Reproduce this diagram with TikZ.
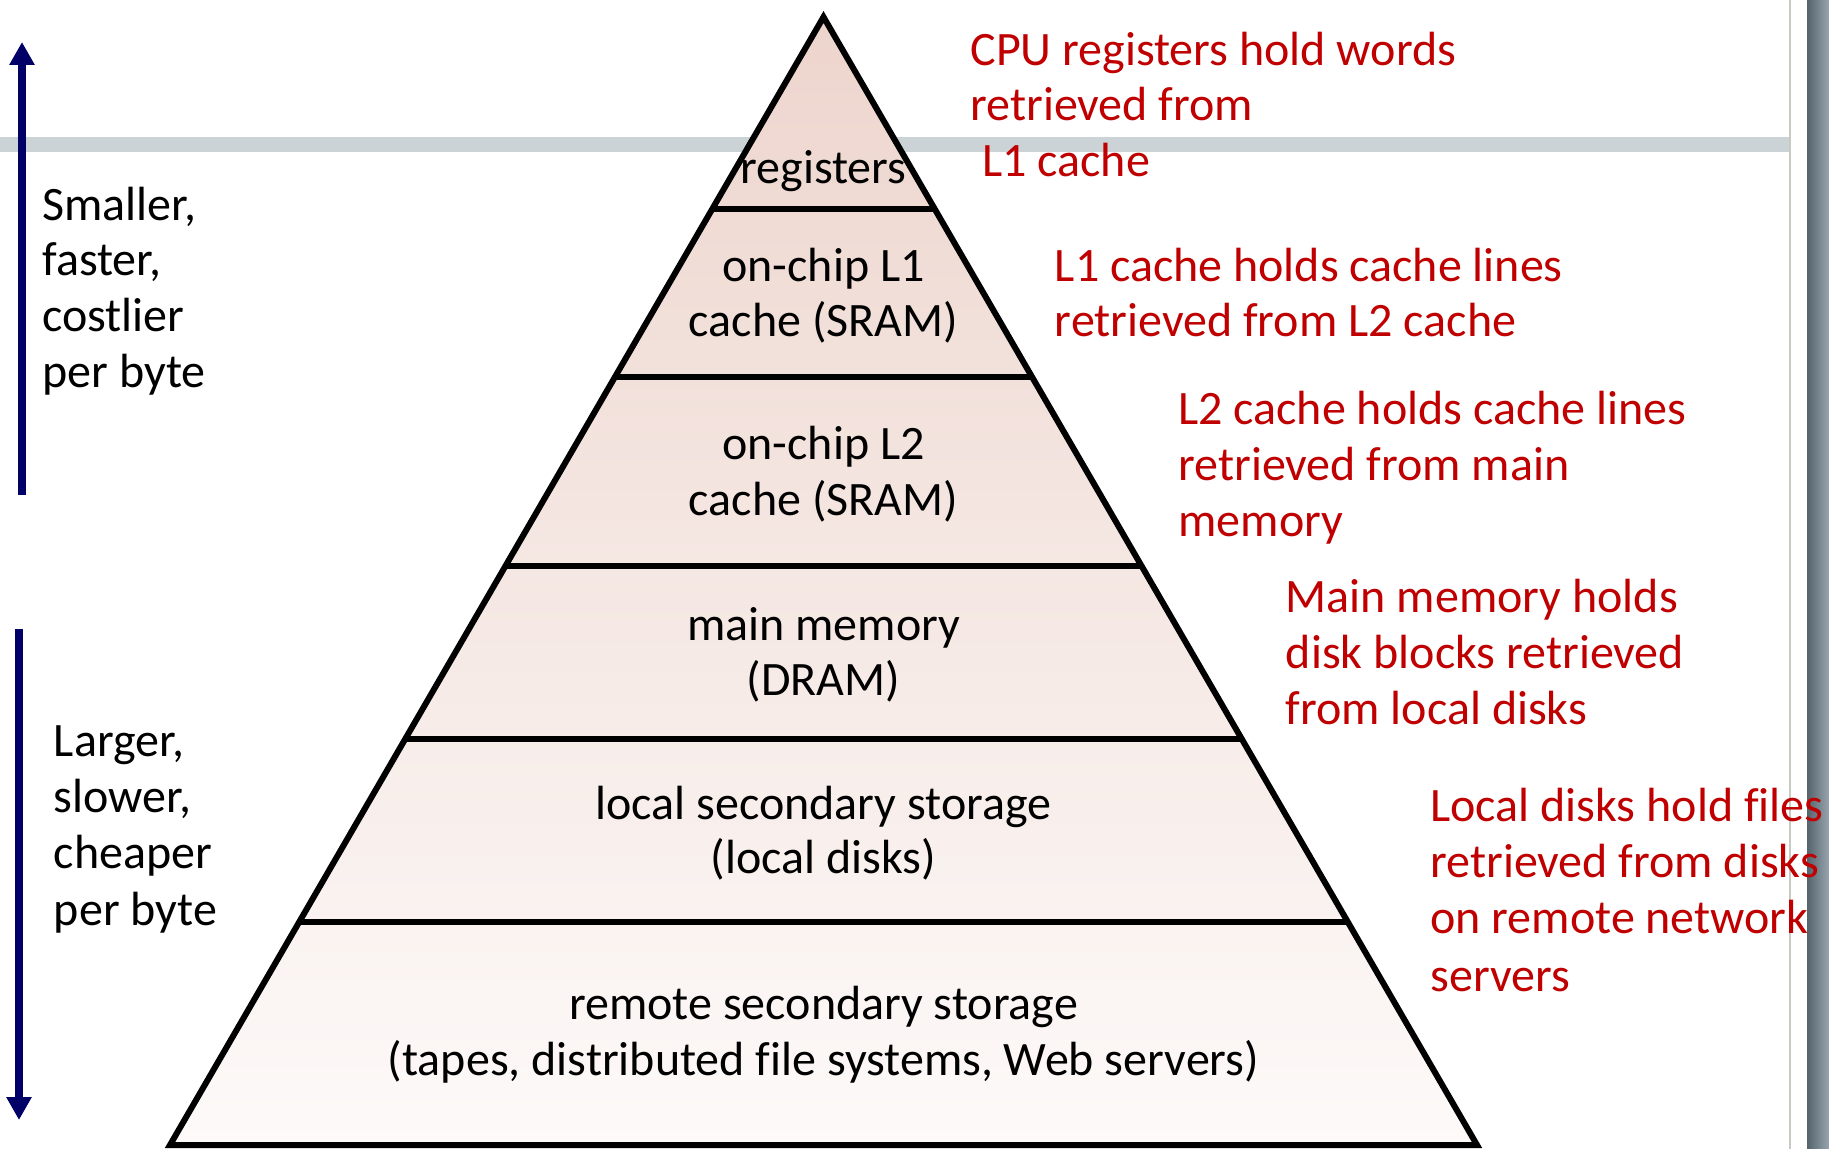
\documentclass[tikz,border=0pt]{standalone}
\usepackage{fontspec}
\setmainfont{Carlito}[Ligatures=NoCommon]
\usetikzlibrary{arrows.meta,calc}

\definecolor{notered}{HTML}{C00000}
\definecolor{arrownavy}{HTML}{000066}
\definecolor{pyrtop}{HTML}{EDD5CD}
\definecolor{pyrbot}{HTML}{FDFAF9}
\definecolor{bandgray}{HTML}{CBD3D6}
\definecolor{rulegray}{HTML}{C8CBC1}
\definecolor{bardark}{HTML}{55636D}
\definecolor{barmid}{HTML}{7F8E97}
\definecolor{barlight}{HTML}{97A5AD}

\begin{document}
\begin{tikzpicture}[x=0.5pt,y=-0.5pt,
  txt/.style={inner sep=0pt, font=\fontsize{24}{28}\selectfont},
  note/.style={txt, text=notered, anchor=base west},
  side/.style={txt, anchor=base west},
  tier/.style={txt, anchor=base},
  outline/.style={line width=3pt, line join=miter},
  tierline/.style={line width=3pt},
  dirarrow/.style={draw=arrownavy, line width=3.75pt,
    -{Triangle[length=11.5pt,width=12pt]}}]

% page area
\useasboundingbox (0,0) rectangle (1829,1149);
\fill[white] (0,0) rectangle (1829,1149);

% title band, frame rule and window edge
\fill[bandgray] (0,137.5) rectangle (1790,152);
\draw[rulegray, line width=1pt] (1790,0) -- (1790,1149);
\shade[left color=bardark, middle color=barmid, right color=barlight]
  (1807,0) rectangle (1829,1149);

% pyramid
\coordinate (apex) at (823.5,17);
\coordinate (bl) at (170,1145);
\coordinate (br) at (1477,1145);
\shade[top color=pyrtop, bottom color=pyrbot] (apex) -- (bl) -- (br) -- cycle;

\coordinate (d1l) at ($(apex)!0.1702!(bl)$);
\coordinate (d1r) at ($(apex)!0.1702!(br)$);
\coordinate (d2l) at ($(apex)!0.3191!(bl)$);
\coordinate (d2r) at ($(apex)!0.3191!(br)$);
\coordinate (d3l) at ($(apex)!0.4867!(bl)$);
\coordinate (d3r) at ($(apex)!0.4867!(br)$);
\coordinate (d4l) at ($(apex)!0.6401!(bl)$);
\coordinate (d4r) at ($(apex)!0.6401!(br)$);
\coordinate (d5l) at ($(apex)!0.8023!(bl)$);
\coordinate (d5r) at ($(apex)!0.8023!(br)$);

\draw[tierline] (d1l) -- (d1r);
\draw[tierline] (d2l) -- (d2r);
\draw[tierline] (d3l) -- (d3r);
\draw[tierline] (d4l) -- (d4r);
\draw[tierline] (d5l) -- (d5r);
\draw[outline] (apex) -- (bl) -- (br) -- cycle;

% tier labels
\node[tier] (reg)  at (823.5,183.5) {registers};
\node[tier] (l1a)  at (823.5,281.5) {on-chip L1};
\node[tier] (l1b)  at (823.5,336.5) {cache (SRAM)};
\node[tier] (l2a)  at (823.5,459.5) {on-chip L2};
\node[tier] (l2b)  at (823.5,515.5) {cache (SRAM)};
\node[tier] (mma)  at (823.5,640.5) {main memory};
\node[tier] (mmb)  at (823.5,695.5) {(DRAM)};
\node[tier] (lsa)  at (823.5,819.5) {local secondary storage};
\node[tier] (lsb)  at (823.5,873.5) {(local disks)};
\node[tier] (rsa)  at (823.5,1019.5) {remote secondary storage};
\node[tier] (rsb)  at (823.5,1075.5) {(tapes, distributed file systems, Web servers)};

% notes on the right
\node[note] (cpu1) at (970,65.5)  {CPU registers hold words};
\node[note] (cpu2) at (970,121)   {retrieved from};
\node[note] (cpu3) at (982,176.5) {L1 cache};

\node[note] (c1a) at (1054.5,281.5) {L1 cache holds cache lines};
\node[note] (c1b) at (1054.5,336.5) {retrieved from L2 cache};

\node[note] (c2a) at (1178,424.5) {L2 cache holds cache lines};
\node[note] (c2b) at (1178,480.5) {retrieved from main};
\node[note] (c2c) at (1178,536.5) {memory};

\node[note] (mm1) at (1285.5,612.5) {Main memory holds};
\node[note] (mm2) at (1285.5,668.5) {disk blocks retrieved};
\node[note] (mm3) at (1285.5,724.5) {from local disks};

\node[note] (ld1) at (1430,821.5) {Local disks hold files};
\node[note] (ld2) at (1430,877.5) {retrieved from disks};
\node[note] (ld3) at (1430,933.5) {on remote network};
\node[note] (ld4) at (1430,991.5) {servers};

% trade-off notes on the left
\node[side] (sm1) at (42,220.5) {Smaller,};
\node[side] (sm2) at (42,275.5) {faster,};
\node[side] (sm3) at (42,331.5) {costlier};
\node[side] (sm4) at (42,387.5) {per byte};

\node[side] (lg1) at (53.6,756.5) {Larger,};
\node[side] (lg2) at (53.6,812.5) {slower,};
\node[side] (lg3) at (53.6,868.5) {cheaper};
\node[side] (lg4) at (53.6,925.5) {per byte};

% direction arrows
\coordinate (upfrom) at (22,495);
\coordinate (upto) at (22,42);
\draw[dirarrow] (upfrom) -- (upto);
\coordinate (dnfrom) at (19,629);
\coordinate (dnto) at (19,1120);
\draw[dirarrow] (dnfrom) -- (dnto);
\end{tikzpicture}
\end{document}
